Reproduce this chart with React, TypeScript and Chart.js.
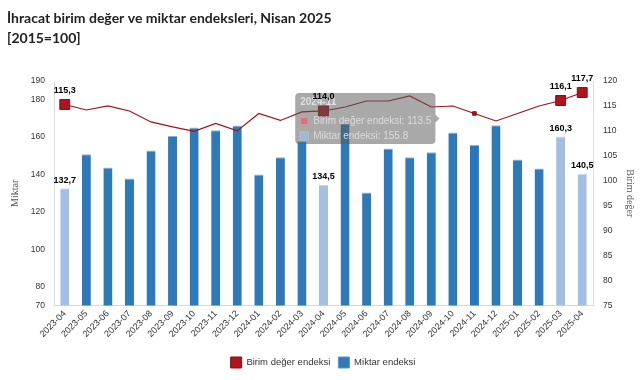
import React, { useEffect, useRef } from 'react';
import { Chart, registerables, Tooltip } from 'chart.js';

Chart.register(...registerables);

const categories = [
  '2023-04', '2023-05', '2023-06', '2023-07', '2023-08', '2023-09', '2023-10', '2023-11', '2023-12',
  '2024-01', '2024-02', '2024-03', '2024-04', '2024-05', '2024-06', '2024-07', '2024-08', '2024-09',
  '2024-10', '2024-11', '2024-12', '2025-01', '2025-02', '2025-03', '2025-04',
];

const unitValueIndex = [
  115.3, 114.2, 115.0, 114.0, 111.8, 110.8, 109.9, 111.5, 110.0,
  113.5, 112.1, 113.8, 114.0, 114.8, 116.0, 116.0, 117.0, 114.8,
  115.0, 113.5, 112.0, 113.5, 115.0, 116.1, 117.7,
];

const quantityIndex = [
  132.7, 150.8, 143.8, 137.9, 152.9, 160.8, 165.1, 163.7, 166.2,
  140.1, 149.3, 157.8, 134.5, 167.3, 130.4, 154.0, 149.3, 151.9,
  162.5, 155.8, 166.4, 148.1, 143.3, 160.3, 140.5,
];

const leftTicks = [70, 80, 100, 120, 140, 160, 180, 190];
const highlighted = [0, 12, 23, 24];
const tooltipIndex = 19;

const titleLines = ['İhracat birim değer ve miktar endeksleri, Nisan 2025', '[2015=100]'];
const seriesNames = ['Birim değer endeksi', 'Miktar endeksi'];
const axisTitles = ['Miktar', 'Birim değer'];

const LINE = '#a3121b';
const MARKER = '#b0141c';
const DARK_BLUE = '#2e79b7';
const DARK_BLUE_TOP = '#86b8e2';
const LIGHT_BLUE = '#a5bee6';
const HOVER_BLUE = '#2277c0';
const SANS = "'Liberation Sans', Arial, sans-serif";
const SERIF = "'Liberation Serif', 'DejaVu Serif', serif";

(Tooltip as any).positioners.besidePoint = function (items: any[]) {
  if (!items.length) return false;
  const el = items[0].element;
  return { x: el.x, y: el.y + 5 };
};

const fmt = (v: number) => v.toFixed(1).replace('.', ',');

const valueLabels = {
  id: 'valueLabels',
  afterDraw(chart: any) {
    const ctx = chart.ctx;
    const lineMeta = chart.getDatasetMeta(0);
    const barMeta = chart.getDatasetMeta(1);
    ctx.save();
    ctx.font = `bold 9px ${SANS}`;
    ctx.fillStyle = '#000';
    ctx.textAlign = 'center';
    ctx.textBaseline = 'middle';
    highlighted.forEach((i) => {
      const p = lineMeta.data[i];
      ctx.fillText(fmt(unitValueIndex[i]), p.x, p.y - 14);
      const b = barMeta.data[i];
      ctx.fillText(fmt(quantityIndex[i]), b.x, b.y - 8);
    });
    ctx.restore();
  },
};

export default function App() {
  const ref = useRef<HTMLCanvasElement>(null);

  useEffect(() => {
    if (!ref.current) return;
    Chart.defaults.font.family = SANS;
    const chart = new Chart(ref.current, {
      type: 'bar',
      data: {
        labels: categories,
        datasets: [
          {
            type: 'line',
            label: seriesNames[0],
            data: unitValueIndex,
            yAxisID: 'y1',
            borderColor: LINE,
            backgroundColor: MARKER,
            borderWidth: 1.2,
            tension: 0,
            pointStyle: 'rect',
            pointRadius: (c: any) =>
              highlighted.includes(c.dataIndex) ? 7 : c.dataIndex === tooltipIndex ? 2.5 : 0,
            pointHoverRadius: (c: any) =>
              highlighted.includes(c.dataIndex) ? 7 : c.dataIndex === tooltipIndex ? 2.5 : 0,
            pointBackgroundColor: MARKER,
            pointBorderColor: '#8a0c13',
            pointBorderWidth: 1,
            order: 0,
          } as any,
          {
            type: 'bar',
            label: seriesNames[1],
            data: quantityIndex,
            yAxisID: 'y',
            backgroundColor: (c: any) =>
              c.type === 'data'
                ? highlighted.includes(c.dataIndex)
                  ? LIGHT_BLUE
                  : c.dataIndex === tooltipIndex
                  ? HOVER_BLUE
                  : DARK_BLUE
                : DARK_BLUE,
            borderColor: (c: any) =>
              c.type === 'data' && highlighted.includes(c.dataIndex) ? '#c4d6f1' : DARK_BLUE_TOP,
            borderWidth: { top: 1, left: 0, right: 0, bottom: 0 },
            borderSkipped: 'bottom',
            barPercentage: 0.42,
            categoryPercentage: 1,
            order: 1,
          } as any,
        ],
      },
      options: {
        responsive: false,
        animation: false,
        events: [],
        layout: { padding: { left: 7, right: 2, top: 0, bottom: 2 } },
        scales: {
          x: {
            offset: true,
            grid: { display: false, drawTicks: false },
            border: { display: true, color: '#d9d9d9' },
            afterFit: (s: any) => {
              s.height = 43.5;
            },
            ticks: {
              autoSkip: false,
              minRotation: 45,
              maxRotation: 45,
              color: '#333',
              font: { size: 9 },
              padding: 3,
            },
          },
          y: {
            position: 'left',
            min: 70,
            max: 190,
            afterBuildTicks: (s: any) => {
              s.ticks = leftTicks.map((v) => ({ value: v }));
            },
            afterFit: (s: any) => {
              s.width = 47;
            },
            grid: { display: false, drawTicks: false },
            border: { display: true, color: '#d9d9d9' },
            ticks: { autoSkip: false, color: '#333', font: { size: 8.5 }, padding: 9 },
            title: {
              display: true,
              text: axisTitles[0],
              color: '#555',
              font: { family: SERIF, size: 10 },
              padding: { top: 2, bottom: 4 },
            },
          },
          y1: {
            position: 'right',
            min: 75,
            max: 120,
            afterFit: (s: any) => {
              s.width = 46;
            },
            grid: { display: false, drawTicks: false },
            border: { display: true, color: '#d9d9d9' },
            ticks: { stepSize: 5, autoSkip: false, color: '#333', font: { size: 8.5 }, padding: 10 },
            title: {
              display: true,
              text: axisTitles[1],
              color: '#555',
              font: { family: SERIF, size: 10 },
              padding: { top: 3, bottom: 2 },
            },
          },
        },
        plugins: {
          title: {
            display: true,
            text: titleLines,
            align: 'start',
            color: '#222',
            font: { family: "Lato, 'Open Sans', sans-serif", size: 14, weight: 'bold', lineHeight: 1.43 },
            padding: { top: 8, bottom: 33 },
          },
          legend: {
            position: 'bottom',
            labels: {
              boxWidth: 11,
              boxHeight: 11,
              color: '#333',
              font: { size: 9.5 },
              padding: 8,
              generateLabels: (chart: any) => {
                const items = Chart.defaults.plugins.legend.labels.generateLabels(chart);
                items.forEach((it: any) => {
                  if (it.datasetIndex === 1) {
                    it.fillStyle = DARK_BLUE;
                    it.strokeStyle = '#5b97cc';
                    it.lineWidth = 1;
                  } else {
                    it.fillStyle = MARKER;
                    it.strokeStyle = '#8a0c13';
                    it.lineWidth = 1;
                  }
                });
                return items;
              },
            },
          },
          tooltip: {
            enabled: true,
            mode: 'index',
            intersect: false,
            position: 'besidePoint' as any,
            xAlign: 'right',
            yAlign: 'center',
            animation: false,
            backgroundColor: 'rgba(90,90,90,0.52)',
            titleColor: '#e0e0e0',
            bodyColor: '#dcdcdc',
            titleFont: { family: SANS, size: 10, weight: 'bold' },
            bodyFont: { family: SANS, size: 10 },
            titleMarginBottom: 7,
            bodySpacing: 3,
            padding: { top: 3, bottom: 2, left: 5, right: 4 },
            caretPadding: 35,
            caretSize: 4,
            cornerRadius: 4,
            boxWidth: 8,
            boxHeight: 8,
            boxPadding: 3,
            multiKeyBackground: 'rgba(0,0,0,0)',
            callbacks: {
              labelColor: (c: any) =>
                c.datasetIndex === 0
                  ? { borderColor: 'rgba(230,140,145,0.9)', backgroundColor: 'rgba(215,110,115,0.85)' }
                  : { borderColor: 'rgba(170,205,240,0.9)', backgroundColor: 'rgba(150,190,230,0.85)' },
            },
          } as any,
        },
      },
      plugins: [valueLabels],
    } as any);

    chart.tooltip!.setActiveElements(
      [
        { datasetIndex: 0, index: tooltipIndex },
        { datasetIndex: 1, index: tooltipIndex },
      ],
      { x: 0, y: 0 }
    );
    chart.update();

    return () => chart.destroy();
  }, []);

  return (
    <div style={{ position: 'absolute', left: 0, top: 0, width: 641, height: 380, background: '#fff' }}>
      <canvas ref={ref} width={641} height={380} />
    </div>
  );
}
